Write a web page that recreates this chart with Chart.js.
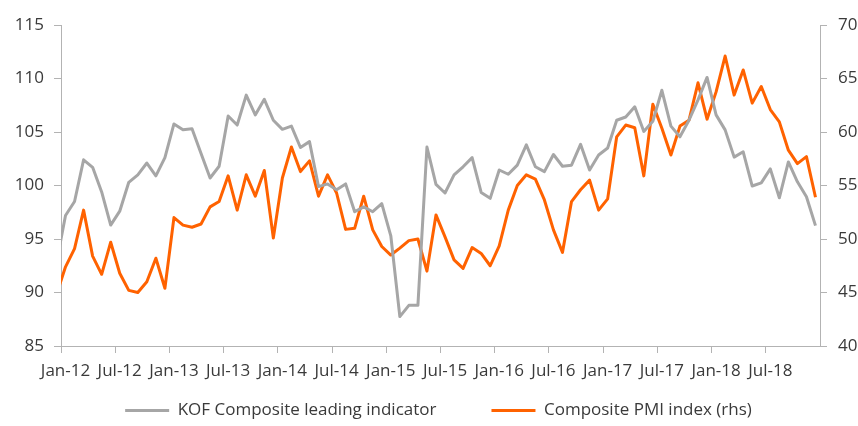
<!DOCTYPE html>
<html>
<head>
<meta charset="utf-8">
<script src="https://cdn.jsdelivr.net/npm/chart.js@4/dist/chart.umd.min.js"></script>
<style>
  html, body { margin: 0; padding: 0; background: #fff; }
  canvas { display: block; }
</style>
</head>
<body>
<canvas id="kofPmiChart" width="858" height="426"></canvas>
<script>
// --- Data (monthly, Jan-12 .. Dec-18) ---
const tickLabels = ['Jan-12', 'Jul-12', 'Jan-13', 'Jul-13', 'Jan-14', 'Jul-14', 'Jan-15',
    'Jul-15', 'Jan-16', 'Jul-16', 'Jan-17', 'Jul-17', 'Jan-18', 'Jul-18'];

// Dec-11 values: only a sliver of line shows left of the first month
const kofLead = 92.8;
const pmiLead = 44.8;

const kofValues = [
    97.2, 98.5, 102.4, 101.7, 99.4, 96.3, 97.6, 100.3, 101.0, 102.1, 100.9, 102.6,
    105.75, 105.2, 105.3, 103.0, 100.7, 101.8, 106.5, 105.65, 108.45, 106.6, 108.05, 106.1,
    105.25, 105.55, 103.55, 104.1, 99.9, 100.15, 99.6, 100.15, 97.55, 98.0, 97.55, 98.3,
    95.3, 87.75, 88.8, 88.8, 103.6, 100.1, 99.3, 101.0, 101.75, 102.6, 99.35, 98.8,
    101.45, 101.05, 101.9, 103.8, 101.75, 101.3, 102.9, 101.8, 101.9, 103.85, 101.45, 102.85,
    103.5, 106.1, 106.4, 107.35, 105.05, 106.0, 108.9, 105.55, 104.55, 106.1, 108.0, 110.1,
    106.6, 105.2, 102.65, 103.15, 99.95, 100.25, 101.55, 98.85, 102.2, 100.35, 98.95, 96.25
];

const pmiValues = [
    47.4, 49.1, 52.7, 48.4, 46.7, 49.7, 46.8, 45.2, 45.0, 46.0, 48.2, 45.4,
    52.0, 51.3, 51.1, 51.4, 53.0, 53.5, 55.9, 52.7, 56.0, 54.0, 56.4, 50.1,
    55.7, 58.6, 56.3, 57.3, 54.0, 56.0, 54.3, 50.9, 51.0, 54.0, 50.85, 49.3,
    48.5, 49.15, 49.85, 50.0, 47.0, 52.25, 50.2, 48.05, 47.25, 49.2, 48.65, 47.5,
    49.35, 52.7, 55.0, 56.0, 55.6, 53.65, 50.85, 48.75, 53.5, 54.6, 55.5, 52.7,
    53.75, 59.55, 60.65, 60.4, 55.9, 62.6, 60.35, 57.85, 60.55, 61.1, 64.6, 61.2,
    63.75, 67.1, 63.45, 65.8, 62.7, 64.25, 62.1, 60.95, 58.3, 57.05, 57.7, 53.9
];

// --- Styling ---
const kofColor = '#a6a6a6';
const pmiColor = '#ff6200';
const axisColor = '#b3b3b3';
const textColor = '#3a3a3a';
const labelFont = { family: "'Open Sans', sans-serif", size: 17 };

// index -1 is the Dec-11 lead point, 0 is Jan-12
function toPoints(lead, values) {
    const pts = [{ x: -1, y: lead }];
    values.forEach((v, i) => pts.push({ x: i, y: v }));
    return pts;
}

const ctx = document.getElementById('kofPmiChart').getContext('2d');
new Chart(ctx, {
    type: 'line',
    data: {
        datasets: [
            {
                label: 'KOF Composite leading indicator', data: toPoints(kofLead, kofValues),
                borderColor: kofColor, backgroundColor: kofColor, borderWidth: 3,
                pointRadius: 0, tension: 0, borderJoinStyle: 'round', yAxisID: 'y', clip: 0
            },
            {
                label: 'Composite PMI index (rhs)', data: toPoints(pmiLead, pmiValues),
                borderColor: pmiColor, backgroundColor: pmiColor, borderWidth: 3,
                pointRadius: 0, tension: 0, borderJoinStyle: 'round', yAxisID: 'y1', clip: 0
            }
        ]
    },
    options: {
        responsive: false, animation: false, devicePixelRatio: 1,
        // negative right padding just shifts the centred legend a bit to the right
        layout: { padding: { top: 25, left: 0, right: -19, bottom: -3 } },
        scales: {
            x: {
                type: 'linear', min: -0.5, max: 83.5,
                afterBuildTicks: scale => { scale.ticks = tickLabels.map((t, i) => ({ value: i * 6 - 0.5 })); },
                afterFit: scale => {
                    scale.height = 1;
                    scale._computeLabelArea = () => undefined; // labels hang below the thin box, don't clip them
                },
                grid: { drawOnChartArea: false, drawTicks: true, tickLength: 7, color: axisColor, lineWidth: 1 },
                border: { color: axisColor, width: 1 },
                ticks: {
                    callback: v => tickLabels[Math.round((v + 0.5) / 6)],
                    labelOffset: 4.5, padding: 8, maxRotation: 0, autoSkip: false,
                    font: labelFont, color: textColor
                }
            },
            y: {
                type: 'linear', position: 'left', min: 85, max: 115,
                afterFit: scale => { scale.width = 61; },
                grid: { drawOnChartArea: false, tickLength: 7, color: axisColor },
                border: { color: axisColor, width: 1 },
                ticks: { stepSize: 5, padding: 10, font: labelFont, color: textColor }
            },
            y1: {
                type: 'linear', position: 'right', min: 40, max: 70,
                afterFit: scale => { scale.width = 57; },
                grid: { drawOnChartArea: false, tickLength: 7, color: axisColor },
                border: { color: axisColor, width: 1 },
                ticks: { stepSize: 5, padding: 11, font: labelFont, color: textColor }
            }
        },
        plugins: {
            legend: {
                position: 'bottom',
                labels: {
                    usePointStyle: true, pointStyle: 'line', pointStyleWidth: 44,
                    padding: 55, font: labelFont, color: textColor
                }
            },
            tooltip: { enabled: false }
        }
    }
});
</script>
</body>
</html>
